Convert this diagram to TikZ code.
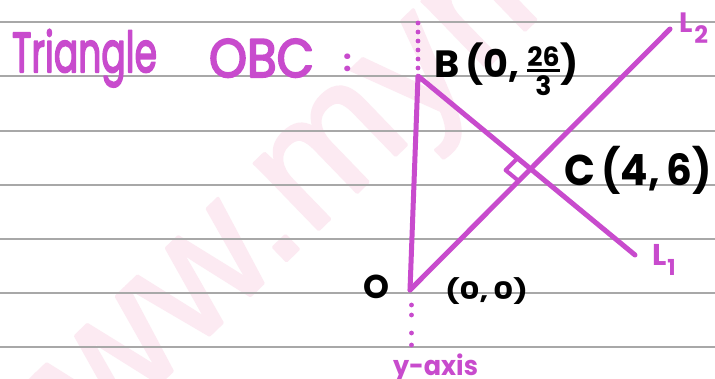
\documentclass[tikz,border=0pt]{standalone}
\usepackage{fontspec}
\usepackage{amsmath}
\usepackage{graphicx}
\setmainfont{Poppins}
\newfontfamily\wmfont{Liberation Sans}
\usetikzlibrary{calc}
\definecolor{pen}{RGB}{200,75,205}
\definecolor{wmpink}{RGB}{252,234,242}
\definecolor{rulegray}{RGB}{168,168,168}
\newcommand\handw[3]{\resizebox{#1}{\height}{\fontsize{#2}{#2}\selectfont #3}}
\newcommand\thickw[2]{\special{pdf:literal direct 2 Tr #1 w 1 j}#2\special{pdf:literal direct 0 Tr}}
\tikzset{
  lbl/.style={anchor=base west, inner sep=0pt, outer sep=0pt},
  penlbl/.style={lbl, text=pen},
  inklbl/.style={lbl, text=black},
  mline/.style={draw=pen, line width=5pt, line cap=round, line join=round},
  ruling/.style={draw=rulegray, line width=1.6pt},
  pendot/.style={fill=pen}
}
\begin{document}
\begin{tikzpicture}[x=1pt,y=-1pt]
\useasboundingbox (0,0) rectangle (715,378);
\fill[white] (0,0) rectangle (715,378);
% watermark
\node[lbl, rotate=44, text=wmpink] (wm) at (310,238)
  {\color{wmpink}\wmfont\fontsize{175}{175}\selectfont\thickw{3}{\llap{www.}mymathscloud.com}};
% ruled lines
\foreach \yy in {22,76,131,185,239,293,347}
  \draw[ruling] (0,\yy) -- (715,\yy);
% title
\node[penlbl] (t1) at (12,72) {\handw{145pt}{56}{\color{pen}\thickw{2}{Triangle}}};
\node[penlbl] (t2) at (209,77) {\handw{105pt}{54}{\color{pen}\thickw{2}{OBC}}};
\node[penlbl] (t3) at (343,71) {\fontsize{30}{30}\selectfont\bfseries :};
% points
\coordinate (O) at (410,290);
\coordinate (B) at (418,76);
\coordinate (L1end) at (635,255);
\coordinate (L2end) at (670,29);
\coordinate (C) at (intersection of O--L2end and B--L1end);
% lines
\draw[mline] (O) -- (B) -- (L1end);
\draw[mline] (O) -- (L2end);
% right angle
\coordinate (p) at ($(C)!17pt!(B)$);
\coordinate (q) at ($(C)!17pt!(O)$);
\draw[draw=pen, line width=4pt, line join=round] (p) -- ($(p)+(q)-(C)$) -- (q);
% dotted y-axis
\foreach \yy in {23,32,41,50,59,68}
  \fill[pendot] (418,\yy) circle (2.4);
\foreach \yy in {305,315,333,345}
  \fill[pendot] (411.5,\yy) circle (2.4);
% labels
\node[inklbl] (Blbl) at (434,77) {\handw{145pt}{38}{\bfseries B\,(0,\,$\genfrac{}{}{3pt}{}{\text{26}}{\text{3}}$)}};
\node[inklbl] (Clbl) at (564,185) {\handw{148pt}{43}{\bfseries C\,(4,\,6)}};
\node[inklbl] (Olbl) at (363,298) {\fontsize{33}{33}\selectfont\bfseries O};
\node[inklbl] (Ocoord) at (445,299) {\handw{83pt}{24}{\bfseries (0,\,0)}};
\node[penlbl] (L2lbl) at (679,32) {\fontsize{28}{28}\selectfont\bfseries L\hspace{2pt}\raisebox{-11pt}{\fontsize{24}{24}\selectfont 2}};
\node[penlbl] (L1lbl) at (652,265) {\fontsize{30}{30}\selectfont\bfseries L\hspace{1pt}\raisebox{-10pt}{\fontsize{22}{22}\selectfont 1}};
\node[penlbl] (yax) at (393,375) {\handw{85pt}{27}{\bfseries y-axis}};
\end{tikzpicture}
\end{document}
